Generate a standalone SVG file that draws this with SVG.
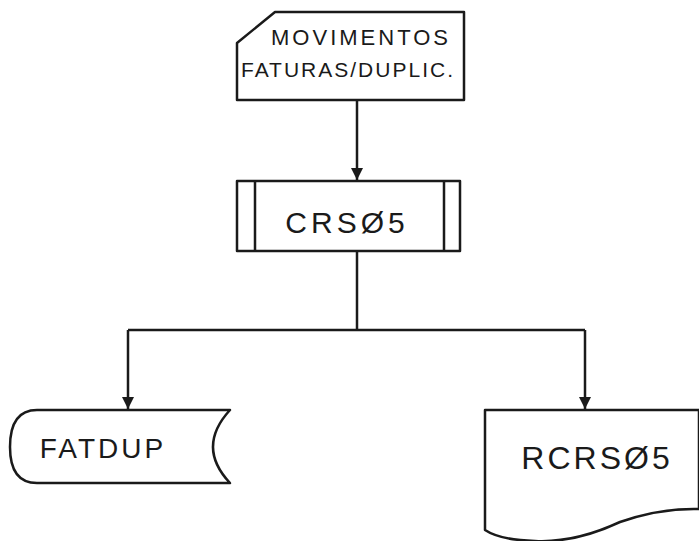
<svg xmlns="http://www.w3.org/2000/svg" width="699" height="541" viewBox="0 0 699 541">
<defs>
<style>
.s{fill:#fff;stroke:#1a1a1a;stroke-width:2.5;stroke-linejoin:round}
.c{fill:none;stroke:#1a1a1a;stroke-width:2.5}
.t{font-family:"Liberation Sans",Arial,sans-serif;fill:#1a1a1a;text-anchor:middle}
</style>
<marker id="ah" viewBox="0 0 10 10" refX="10" refY="5" markerWidth="5" markerHeight="5" orient="auto">
<path d="M0,0 L10,5 L0,10 Z" fill="#1a1a1a"/>
</marker>
</defs>
<rect width="699" height="541" fill="#fff"/>
<g id="connectors">
<path class="c" d="M357,100 L357,180" marker-end="url(#ah)"/>
<path class="c" d="M357,251 L357,330"/>
<path class="c" d="M128,330 L585,330"/>
<path class="c" d="M128,330 L128,409" marker-end="url(#ah)"/>
<path class="c" d="M585,330 L585,409" marker-end="url(#ah)"/>
</g>
<g id="movimentos">
<path class="s" d="M275,12 L464,12 L464,100 L237,100 L237,43 Z"/>
<text class="t" x="361" y="45" font-size="22" letter-spacing="3">MOVIMENTOS</text>
<text class="t" x="348" y="77" font-size="21" letter-spacing="2">FATURAS/DUPLIC.</text>
</g>
<g id="crs05">
<rect class="s" x="237" y="181" width="223" height="70"/>
<path class="c" d="M255,181 L255,251 M444,181 L444,251"/>
<text class="t" x="347" y="233" font-size="30" letter-spacing="4">CRSØ5</text>
</g>
<g id="fatdup">
<path class="s" d="M37,410 L230,410 Q196,447 230,483 L37,483 Q10,483 10,447 Q10,410 37,410 Z"/>
<text class="t" x="103" y="458" font-size="28" letter-spacing="3">FATDUP</text>
</g>
<g id="rcrs05">
<path class="s" d="M485,410 L699,410 L699,509 Q660,508 620,522 Q575,543 535,541 Q500,540 485,530 Z"/>
<text class="t" x="597" y="469" font-size="32" letter-spacing="3">RCRSØ5</text>
</g>
</svg>
